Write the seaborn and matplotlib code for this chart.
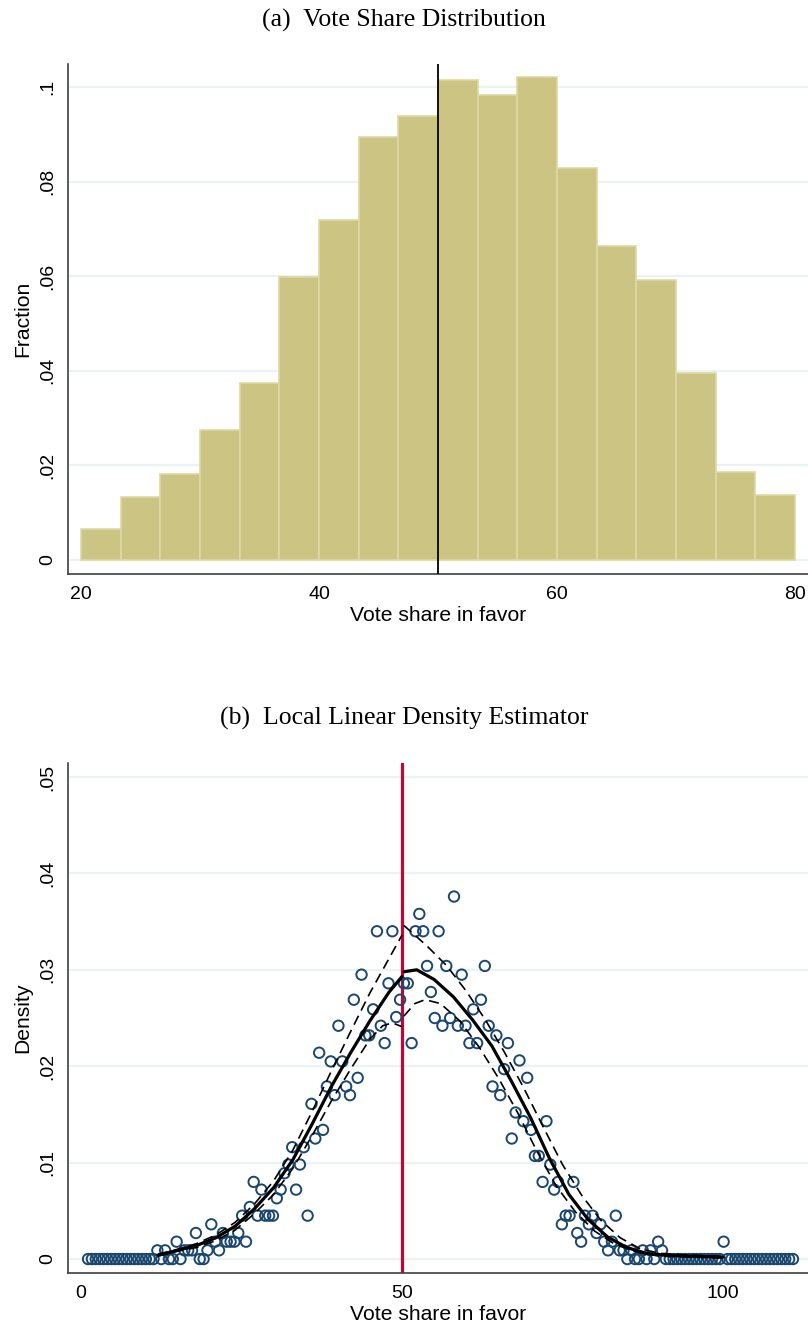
import numpy as np
import pandas as pd
import matplotlib
matplotlib.use("Agg")
import matplotlib.pyplot as plt
import seaborn as sns

sns.set_style("white")
plt.rcParams["font.family"] = ["Liberation Sans", "DejaVu Sans"]
plt.rcParams["text.color"] = "black"
plt.rcParams["axes.labelcolor"] = "black"

# (a) histogram: fraction of observations per bin (18 bins from 20 to 80)
hist_start, hist_end, n_bins = 20, 80, 18
hist_frac = [0.0066, 0.0133, 0.0181, 0.0275, 0.0374, 0.0598, 0.0719, 0.0894, 0.0939,
             0.1015, 0.0983, 0.1021, 0.0829, 0.0664, 0.0592, 0.0395, 0.0187, 0.0138]

# (b) binned density, bin width 0.6, left and right of the cutoff at 50
cutoff = 50
bin_w = 0.6
left_dens = [0, 0, 0, 0, 0, 0, 0, 0, 0, 0, 0, 0, 0, 0, 0, 0, 0, 0,
             0.0009, 0, 0.0009, 0, 0, 0.0018, 0, 0.0009, 0.0009, 0.0009, 0.0027, 0,
             0, 0.0009, 0.0036, 0.0018, 0.0009, 0.0027, 0.0018, 0.0018, 0.0018, 0.0027,
             0.0045, 0.0018, 0.0054, 0.0080, 0.0045, 0.0072, 0.0045, 0.0045, 0.0045, 0.0063,
             0.0072, 0.0089, 0.0098, 0.0116, 0.0072, 0.0098, 0.0116, 0.0045, 0.0161, 0.0125,
             0.0214, 0.0134, 0.0179, 0.0205, 0.0170, 0.0242, 0.0205, 0.0179, 0.0170, 0.0269,
             0.0188, 0.0295, 0.0232, 0.0232, 0.0259, 0.0340, 0.0242, 0.0224, 0.0286, 0.0340,
             0.0251, 0.0269]
right_dens = [0.0286, 0.0286, 0.0224, 0.0340, 0.0358, 0.0340, 0.0304, 0.0277, 0.0250, 0.0340,
              0.0242, 0.0304, 0.0250, 0.0376, 0.0242, 0.0295, 0.0242, 0.0224, 0.0259, 0.0224,
              0.0269, 0.0304, 0.0242, 0.0179, 0.0232, 0.0170, 0.0197, 0.0224, 0.0125, 0.0152,
              0.0206, 0.0143, 0.0188, 0.0134, 0.0107, 0.0107, 0.0080, 0.0143, 0.0098, 0.0072,
              0.0080, 0.0036, 0.0045, 0.0045, 0.0080, 0.0027, 0.0018, 0.0045, 0.0036, 0.0045,
              0.0027, 0.0036, 0.0018, 0.0009, 0.0018, 0.0045, 0.0009, 0.0009, 0, 0.0009,
              0, 0, 0.0009, 0, 0.0009, 0, 0.0018, 0.0009,
              0, 0, 0, 0, 0, 0, 0, 0, 0, 0, 0, 0, 0, 0, 0,
              0.0018,
              0, 0, 0, 0, 0, 0, 0, 0, 0, 0, 0, 0, 0, 0, 0, 0, 0, 0]

# fitted local linear density and 95% band
fit_left_x = [12, 15, 18, 21, 24, 27, 30, 33, 36, 39, 42, 45, 48, 50]
fit_left = [0.0004, 0.0009, 0.0014, 0.0022, 0.0034, 0.0052, 0.0074, 0.0103, 0.0140,
            0.0179, 0.0214, 0.0247, 0.0277, 0.0293]
hi_left = [0.0005, 0.0010, 0.0016, 0.0025, 0.0038, 0.0057, 0.0081, 0.0113, 0.0153,
           0.0195, 0.0236, 0.0276, 0.0312, 0.0336]
lo_left_x = [12, 15, 18, 21, 24, 27, 30, 33, 36, 39, 42, 45, 47, 48.5, 50]
lo_left = [0.0003, 0.0008, 0.0012, 0.0019, 0.0030, 0.0047, 0.0067, 0.0094, 0.0128,
           0.0164, 0.0197, 0.0228, 0.0242, 0.0245, 0.0241]
fit_right_x = [50.3, 52.3, 55, 58, 61, 64, 67, 70, 73, 76, 79, 82, 85, 88, 91, 95, 100]
fit_right = [0.0298, 0.0300, 0.0290, 0.0272, 0.0248, 0.0221, 0.0185, 0.0147, 0.0104,
             0.0067, 0.0041, 0.0023, 0.0012, 0.0006, 0.0004, 0.0003, 0.0002]
hi_right_x = [50.3, 52, 54, 57, 60, 63, 66, 69, 72, 75, 78, 81, 84, 87, 90, 95, 100]
hi_right = [0.0346, 0.0336, 0.0324, 0.0304, 0.0278, 0.0248, 0.0214, 0.0177, 0.0137,
            0.0098, 0.0066, 0.0040, 0.0022, 0.0011, 0.0006, 0.0004, 0.0003]
lo_right_x = [50.3, 52, 53.6, 56, 59, 62, 65, 68, 71, 74, 77, 80, 83, 86, 90, 95, 100]
lo_right = [0.0252, 0.0265, 0.0269, 0.0265, 0.0247, 0.0220, 0.0188, 0.0152, 0.0112,
            0.0076, 0.0049, 0.0029, 0.0016, 0.0008, 0.0003, 0.0002, 0.0001]

# bin centres on each side of the cutoff
left_x = cutoff - bin_w / 2 - bin_w * np.arange(len(left_dens))[::-1]
right_x = cutoff + bin_w / 2 + bin_w * np.arange(len(right_dens))
pts = pd.DataFrame({"x": np.concatenate([left_x, right_x]),
                    "y": left_dens + right_dens})

navy = "#1A476F"
grid_c = "#EAF2F3"
axis_c = "#404040"

fig = plt.figure(figsize=(8.08, 13.27), dpi=100)
ax1 = fig.add_axes([0.0845, 0.5677, 0.9155, 0.3841])
ax2 = fig.add_axes([0.0845, 0.0409, 0.9155, 0.3841])

# ---- (a) histogram
edges = list(np.linspace(hist_start, hist_end, n_bins + 1))
hist_df = pd.DataFrame({"mid": [(a + b) / 2 for a, b in zip(edges[:-1], edges[1:])],
                        "frac": hist_frac})
sns.histplot(data=hist_df, x="mid", weights="frac", bins=edges, ax=ax1,
             color="#CBC482", edgecolor="#DED8A6", linewidth=1.2, alpha=1)
ax1.axvline(cutoff, color="black", lw=1.3, zorder=5)
ax1.set_xlim(18.93, 81.09)
ax1.set_ylim(-0.0029, 0.1049)
ax1.set_yticks([0, 0.02, 0.04, 0.06, 0.08, 0.1])
ax1.set_yticklabels(["0", ".02", ".04", ".06", ".08", ".1"])
ax1.set_xticks([20, 40, 60, 80])
ax1.set_ylabel("Fraction", fontsize=15.2, labelpad=5)
ax1.set_xlabel("Vote share in favor", fontsize=15.2, labelpad=2)

# ---- (b) density estimator
sns.scatterplot(data=pts, x="x", y="y", ax=ax2, marker="o", s=56,
                facecolor="none", edgecolor=navy, linewidth=1.4, zorder=3)
sns.lineplot(x=fit_left_x, y=fit_left, ax=ax2, color="black", lw=2.3, sort=False, zorder=4)
sns.lineplot(x=fit_right_x, y=fit_right, ax=ax2, color="black", lw=2.3, sort=False, zorder=4)
for bx, by in [(fit_left_x, hi_left), (lo_left_x, lo_left),
               (hi_right_x, hi_right), (lo_right_x, lo_right)]:
    sns.lineplot(x=bx, y=by, ax=ax2, color="black", lw=1.2, sort=False, zorder=4)
    ax2.lines[-1].set_dashes([6, 3.5])
ax2.axvline(cutoff, color="#C10534", lw=2.3, zorder=2)
ax2.set_xlim(-1.98, 113.24)
ax2.set_ylim(-0.00142, 0.05145)
ax2.set_yticks([0, 0.01, 0.02, 0.03, 0.04, 0.05])
ax2.set_yticklabels(["0", ".01", ".02", ".03", ".04", ".05"])
ax2.set_xticks([0, 50, 100])
ax2.set_ylabel("Density", fontsize=15.2, labelpad=5)
ax2.set_xlabel("Vote share in favor", fontsize=15.2, labelpad=2)

for ax in (ax1, ax2):
    ax.set_axisbelow(True)
    ax.yaxis.grid(True, color=grid_c, lw=1.6)
    ax.xaxis.grid(False)
    for s in ("top", "right"):
        ax.spines[s].set_visible(False)
    for s in ("left", "bottom"):
        ax.spines[s].set_color(axis_c)
        ax.spines[s].set_linewidth(1.2)
    ax.tick_params(axis="both", direction="out", length=5, width=1.1,
                   color=axis_c, labelcolor="black", labelsize=14, pad=4)
    for lab in ax.get_yticklabels():
        lab.set_rotation(90)
        lab.set_va("center")

fig.text(0.5, 1 - 20 / 1327, "(a)  Vote Share Distribution", ha="center", va="center",
         fontsize=18.5, family="Liberation Serif")
fig.text(0.5, 1 - 718 / 1327, "(b)  Local Linear Density Estimator", ha="center", va="center",
         fontsize=18.5, family="Liberation Serif")

fig.savefig("out.png", dpi=100)
